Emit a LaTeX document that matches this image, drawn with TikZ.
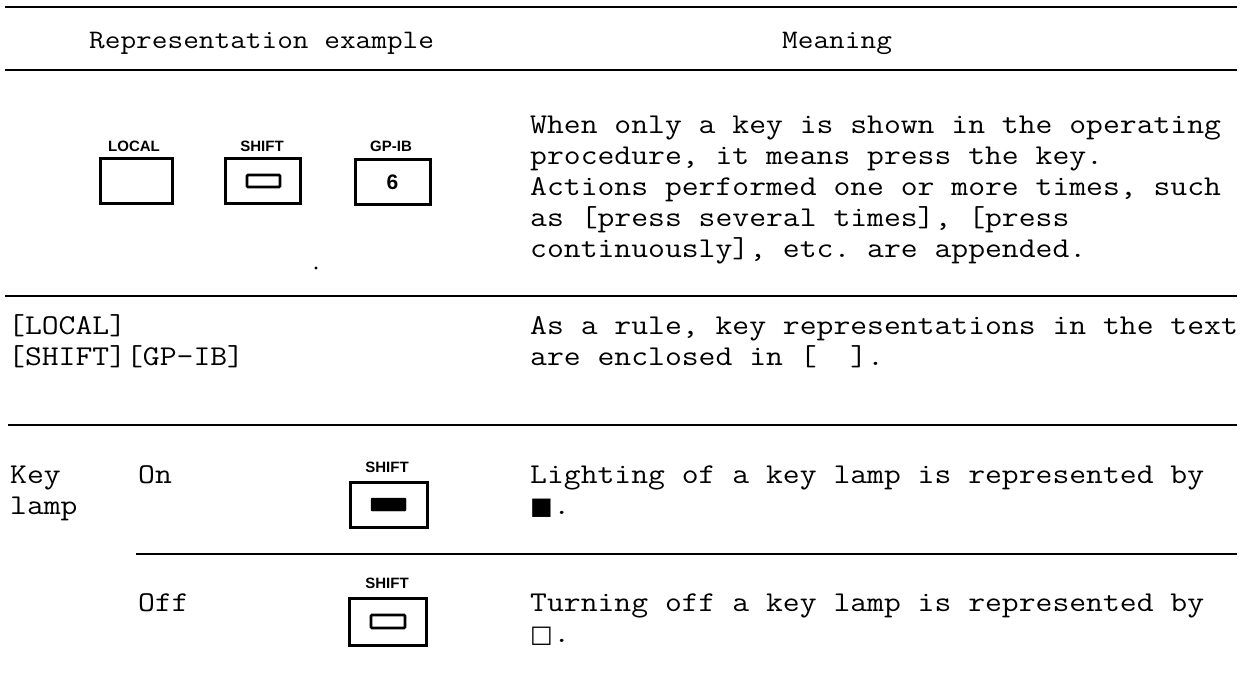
\documentclass[tikz,border=0pt]{standalone}
\usepackage{fontspec}
\setmonofont{Latin Modern Mono}[FakeStretch=1.14]
\newfontfamily\keyfont{Liberation Sans}
\newfontfamily\symfont{DejaVu Sans}
\begin{document}
\begin{tikzpicture}[x=1pt,y=-1pt,
  rule/.style={line width=2.2pt},
  txt/.style={font=\fontsize{28.7}{31}\ttfamily, inner sep=0, anchor=base west},
  hdr/.style={font=\fontsize{26.7}{30}\ttfamily, inner sep=0, anchor=base west},
  keybox/.style={draw, line width=3pt, inner sep=0},
  keylbl/.style={font=\fontsize{15}{16}\keyfont\bfseries, inner sep=0},
  lampoff/.style={draw, line width=2.6pt, rounded corners=1pt},
  lampon/.style={fill=black, rounded corners=1pt},
  sym/.style={font=\fontsize{24}{26}\symfont, inner sep=0, anchor=base west}]
\useasboundingbox (0,0) rectangle (1251,681);
% rules
\coordinate (r0a) at (5,7);   \coordinate (r0b) at (1237,7);
\coordinate (r1a) at (5,70);  \coordinate (r1b) at (1237,70);
\coordinate (r2a) at (5,296); \coordinate (r2b) at (1237,296);
\coordinate (r3a) at (8,425); \coordinate (r3b) at (1237,425);
\coordinate (r4a) at (136,554); \coordinate (r4b) at (1237,554);
\draw[rule] (r0a) -- (r0b);
\draw[rule] (r1a) -- (r1b);
\draw[rule] (r2a) -- (r2b);
\draw[rule] (r3a) -- (r3b);
\draw[rule] (r4a) -- (r4b);
% header
\node[hdr] (h1) at (89,48) {Representation example};
\node[hdr] (h2) at (782,48) {Meaning};
% row 1 keys
\node[keylbl] (l1) at (134,146) {LOCAL};
\node[keybox, minimum width=72pt, minimum height=45pt] (k1) at (136,181) {};
\node[keylbl] (l2) at (262,146) {SHIFT};
\node[keybox, minimum width=75pt, minimum height=45pt] (k2) at (262.5,181) {};
\draw[lampoff] (247,175) rectangle (280,187);
\node[keylbl] (l3) at (391,146) {GP-IB};
\node[keybox, minimum width=75pt, minimum height=45pt, font=\fontsize{21}{22}\keyfont\bfseries] (k3) at (392.5,182) {6};
\fill (316,268) circle (1.7);
% row 1 meaning
\node[txt] (m1) at (530,133) {When only a key is shown in the operating};
\node[txt] (m2) at (530,164) {procedure, it means press the key.};
\node[txt] (m3) at (530,195) {Actions performed one or more times, such};
\node[txt] (m4) at (530,226) {as [press several times], [press};
\node[txt] (m5) at (530,257) {continuously], etc. are appended.};
% row 2
\node[txt] (a1) at (8,334) {[LOCAL]};
\node[txt] (a2) at (8,365) {[SHIFT][GP-IB]};
\node[txt] (b1) at (530,334) {As a rule, key representations in the text};
\node[txt] (b2) at (530,365) {are enclosed in [\ \ ].};
% row 3
\node[txt] (c1) at (10,483) {Key};
\node[txt] (c2) at (10,514) {lamp};
\node[txt] (on) at (138,483) {On};
\node[keylbl] (l4) at (387,467) {SHIFT};
\node[keybox, minimum width=77pt, minimum height=45pt] (k4) at (388.5,504.5) {};
\draw[lampon] (371,498) rectangle (406,511);
\node[txt] (d1) at (530,483) {Lighting of a key lamp is represented by};
\node[sym] (d2) at (530,514) {■};
\node[txt] (d3) at (d2.base east) {.};
% off
\node[txt] (off) at (138,611) {Off};
\node[keylbl] (l5) at (387,583) {SHIFT};
\node[keybox, minimum width=77pt, minimum height=47pt] (k5) at (387.5,621.5) {};
\draw[lampoff] (371,615) rectangle (405,628);
\node[txt] (e1) at (530,611) {Turning off a key lamp is represented by};
\node[sym] (e2) at (530,642) {□};
\node[txt] (e3) at (e2.base east) {.};
\end{tikzpicture}
\end{document}
